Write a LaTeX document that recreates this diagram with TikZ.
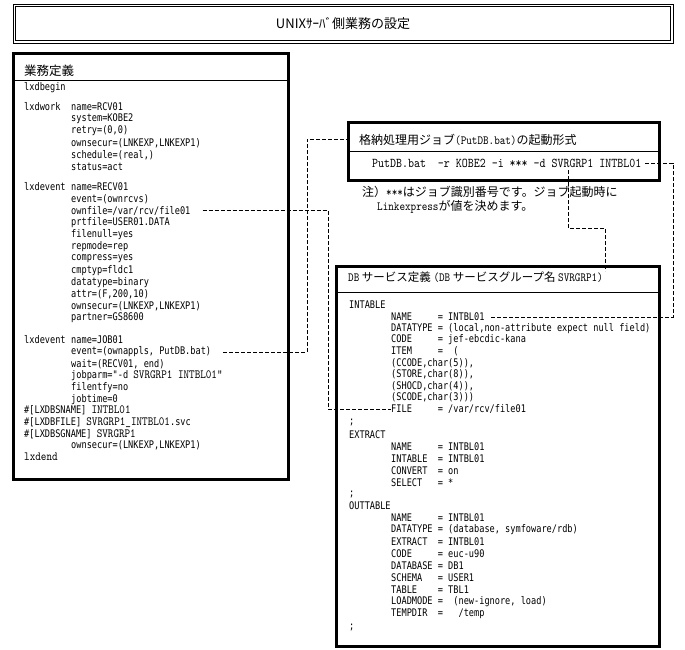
\documentclass[tikz,border=0pt]{standalone}
\usepackage{fontspec}
\newfontfamily\jp{Noto Sans CJK JP}
\newfontfamily\code[FakeStretch=0.82]{DejaVu Sans Mono}
\newfontfamily\smono[FakeStretch=0.85]{lmmono10-regular.otf}
\newcommand{\mysm}{\smono\fontsize{12.5}{14}\selectfont}
\newcommand{\mysmb}{\smono\fontsize{13.4}{15}\selectfont}
\newcommand{\myjp}{\jp\fontsize{12}{14}\selectfont}
\tikzset{
  codetxt/.style={anchor=west, inner sep=0pt, font=\code\fontsize{10.5}{12}\selectfont},
  jptxt/.style={anchor=west, inner sep=0pt, font=\myjp},
  frame/.style={draw, line width=3pt},
  sepline/.style={draw, line width=1pt},
  thinframe/.style={draw, line width=0.9pt},
  conn/.style={draw, line width=0.8pt, dash pattern=on 4pt off 2pt},
}
\begin{document}
\begin{tikzpicture}[x=1pt, y=-1pt]
\useasboundingbox (0,0) rectangle (685,649);
\fill[white] (0,0) rectangle (685,649);

% ---------- title ----------
\draw[thinframe] (13,4) rectangle (673,43);
\draw[thinframe] (15.7,6.7) rectangle (670.3,40.3);
\node[inner sep=0pt, font=\jp\fontsize{13}{15}\selectfont] (title) at (343,23.5) {UNIXｻｰﾊﾞ側業務の設定};

% ---------- left box ----------
\draw[frame] (13,53) rectangle (288,479);
\draw[sepline] (13,80) -- (288,80);
\node[jptxt, font=\jp\fontsize{12.5}{14}\selectfont] (hdrL) at (24,71) {業務定義};
\node[codetxt] (lxbegin) at (24,88) {lxdbegin};

\node[codetxt] (lxwork) at (24,107) {lxdwork};
\node[codetxt] (w1) at (71,107) {name=RCV01};
\node[codetxt] (w2) at (71,119) {system=KOBE2};
\node[codetxt] (w3) at (71,131) {retry=(0,0)};
\node[codetxt] (w4) at (71,143) {ownsecur=(LNKEXP,LNKEXP1)};
\node[codetxt] (w5) at (71,155) {schedule=(real,)};
\node[codetxt] (w6) at (71,167) {status=act};

\node[codetxt] (lxev1) at (24,187) {lxdevent};
\node[codetxt] (a1) at (71,187) {name=RECV01};
\node[codetxt] (a2) at (71,198.9) {event=(ownrcvs)};
\node[codetxt] (ownfile) at (71,210.8) {ownfile=/var/rcv/file01};
\node[codetxt] (a4) at (71,222.7) {prtfile=USER01.DATA};
\node[codetxt] (a5) at (71,234.6) {filenull=yes};
\node[codetxt] (a6) at (71,246.5) {repmode=rep};
\node[codetxt] (a7) at (71,258.4) {compress=yes};
\node[codetxt] (a8) at (71,270.3) {cmptyp=fldc1};
\node[codetxt] (a9) at (71,282.2) {datatype=binary};
\node[codetxt] (a10) at (71,294.1) {attr=(F,200,10)};
\node[codetxt] (a11) at (71,306) {ownsecur=(LNKEXP,LNKEXP1)};
\node[codetxt] (a12) at (71,317.9) {partner=GS8600};

\node[codetxt] (lxev2) at (24,340) {lxdevent};
\node[codetxt] (b1) at (71,340) {name=JOB01};
\node[codetxt] (event2) at (71,352) {event=(ownappls, PutDB.bat)};
\node[codetxt] (b3) at (71,364) {wait=(RECV01, end)};
\node[codetxt] (b4) at (71,376) {jobparm="-d {\mysm SVRGRP1~INTBL01"}};
\node[codetxt] (b5) at (71,388) {filentfy=no};
\node[codetxt] (b6) at (71,400) {jobtime=0};
\node[codetxt] (dbs) at (24,410.5) {\#[LXDBSNAME]~{\mysm INTBL01}};
\node[codetxt] (dbf) at (24,422.5) {\#[LXDBFILE]~{\mysm SVRGRP1\_INTBL01}.svc};
\node[codetxt] (dbg) at (24,434.5) {\#[LXDBSGNAME]~{\mysm SVRGRP1}};
\node[codetxt] (b7) at (71,445.5) {ownsecur=(LNKEXP,LNKEXP1)};
\node[codetxt] (lxend) at (24,457) {\mysm lxdend};

% ---------- top right box ----------
\draw[frame] (348.3,122.7) rectangle (659.5,180);
\draw[sepline] (348.3,151) -- (659.5,151);
\node[jptxt] (hdrT) at (359,140) {格納処理用ジョブ{\mysm (PutDB.bat)}の起動形式};
\node[codetxt, font=\mysmb] (putdb) at (372,163) {PutDB.bat~~-r KOBE2 -i *** -d SVRGRP1 INTBL01};

\node[jptxt] (note1) at (362,192) {注）{\mysm ***}はジョブ識別番号です。ジョブ起動時に};
\node[jptxt] (note2) at (377,207) {{\mysm Linkexpress}が値を決めます。};

% ---------- bottom right box ----------
\draw[frame] (336.7,266.3) rectangle (659.5,646);
\draw[sepline] (336.7,292.5) -- (659.5,292.5);
\node[jptxt, font=\jp\fontsize{11.5}{14}\selectfont] (hdrB) at (348,277) {{\mysm DB}~サービス定義~{\mysm (DB}~サービスグループ名~{\mysm SVRGRP1)}};

\node[codetxt] (intable) at (349,305) {INTABLE};
\node[codetxt] (name1) at (391,317) {NAME~~~~~=~INTBL01};
\node[codetxt] (c2) at (391,329) {DATATYPE~=~(local,non-attribute expect null field)};
\node[codetxt] (c3) at (391,340) {CODE~~~~~=~jef-ebcdic-kana};
\node[codetxt] (c4) at (391,351.5) {ITEM~~~~~=~~(};
\node[codetxt] (c5) at (391,363) {(CCODE,char(5)),};
\node[codetxt] (c6) at (391,374.5) {(STORE,char(8)),};
\node[codetxt] (c7) at (391,386) {(SHOCD,char(4)),};
\node[codetxt] (c8) at (391,397.5) {(SCODE,char(3)))};
\node[codetxt] (file) at (391,409) {FILE~~~~~=~/var/rcv/file01};
\node[codetxt] (semi1) at (349,422) {;};
\node[codetxt] (extract) at (349,435) {EXTRACT};
\node[codetxt] (d1) at (391,447) {NAME~~~~~=~INTBL01};
\node[codetxt] (d2) at (391,459) {INTABLE~~=~INTBL01};
\node[codetxt] (d3) at (391,471) {CONVERT~~=~on};
\node[codetxt] (d4) at (391,483) {SELECT~~~=~*};
\node[codetxt] (semi2) at (349,494.5) {;};
\node[codetxt] (outtable) at (349,506) {OUTTABLE};
\node[codetxt] (e1) at (391,518) {NAME~~~~~=~INTBL01};
\node[codetxt] (e2) at (391,530) {DATATYPE~=~(database, symfoware/rdb)};
\node[codetxt] (e3) at (391,542) {EXTRACT~~=~INTBL01};
\node[codetxt] (e4) at (391,554) {CODE~~~~~=~euc-u90};
\node[codetxt] (e5) at (391,566) {DATABASE~=~DB1};
\node[codetxt] (e6) at (391,578) {SCHEMA~~~=~USER1};
\node[codetxt] (e7) at (391,590) {TABLE~~~~=~TBL1};
\node[codetxt] (e8) at (391,602) {LOADMODE~=~~(new-ignore, load)};
\node[codetxt] (e9) at (391,614) {TEMPDIR~~=~~~/temp};
\node[codetxt] (semi3) at (349,627.5) {;};

% ---------- connectors ----------
\coordinate (bendA) at (328,0);
\coordinate (bendB) at (307,0);
\coordinate (bendC) at (673,0);
\coordinate (tin) at (348.3,139);
\coordinate (s4) at (568,170);
\coordinate (k4) at (568,228);
\coordinate (k5) at (605,228);
\coordinate (t4) at (605,271);

\draw[conn] (ownfile.east) ++(12pt,0) -- (ownfile.east -| bendA) -- (file.west -| bendA) -- (file.west);
\draw[conn] (event2.east) ++(12pt,0) -- (event2.east -| bendB) -- (tin -| bendB) -- (tin);
\draw[conn] (putdb.east) ++(4pt,0) -- (putdb.east -| bendC) -- (name1.east -| bendC) -- ([xshift=6pt]name1.east);
\draw[conn] (s4) -- (k4) -- (k5) -- (t4);
\end{tikzpicture}
\end{document}
